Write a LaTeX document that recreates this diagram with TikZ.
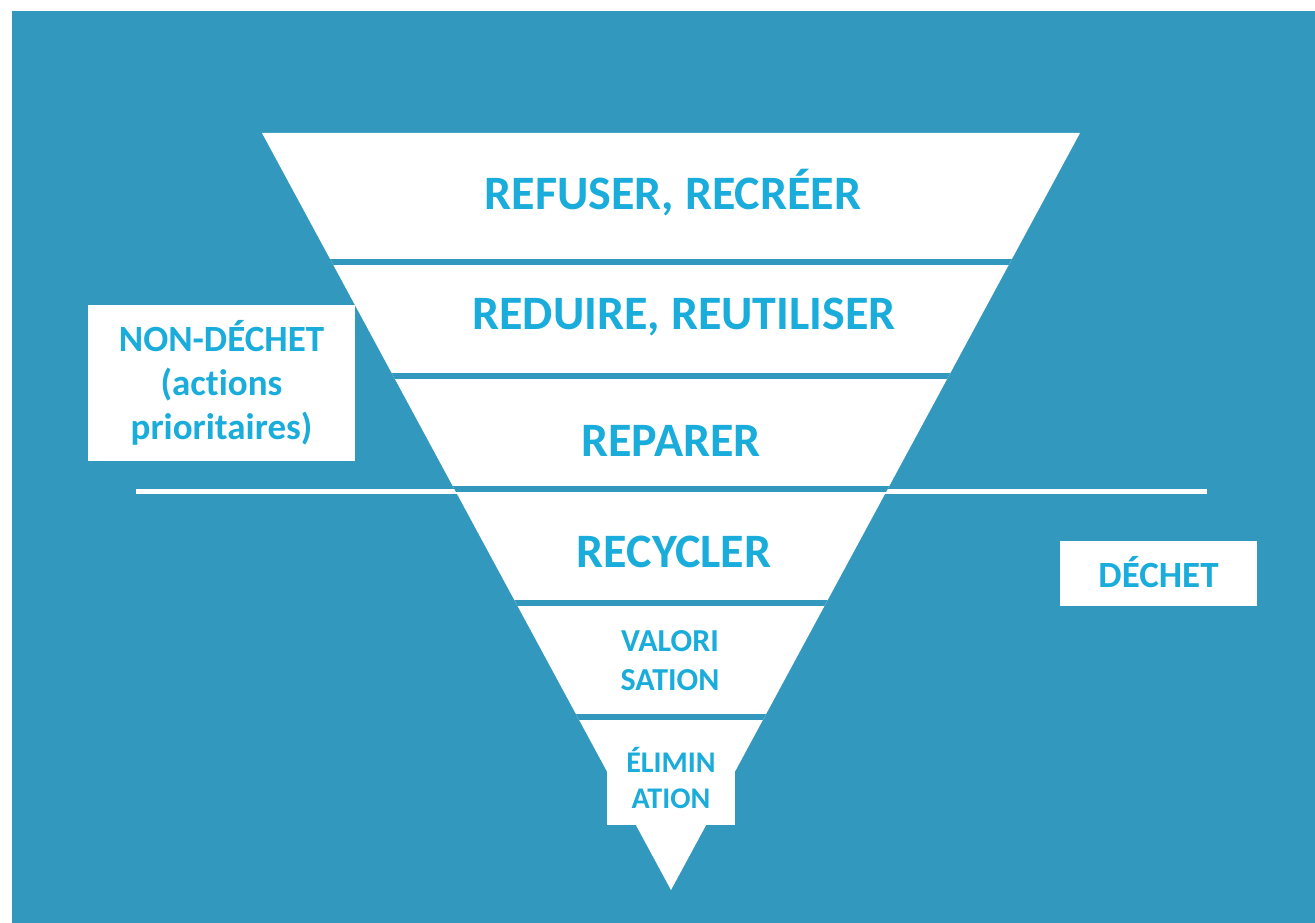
\documentclass[tikz,border=0pt]{standalone}
\usepackage{fontspec}
\setmainfont[Ligatures=NoCommon]{Carlito}
\usepackage{tikz}
\usetikzlibrary{positioning}

\definecolor{fondbleu}{RGB}{51,152,189}
\definecolor{textebleu}{RGB}{26,172,219}

\tikzset{
  niveau/.style={text=textebleu,font=\bfseries\fontsize{48}{56}\selectfont,align=center,inner sep=0pt},
  petitniveau/.style={text=textebleu,font=\bfseries\fontsize{32}{39}\selectfont,align=center,inner sep=0pt},
  etiquette/.style={fill=white,text=textebleu,font=\bfseries\fontsize{37}{44}\selectfont,align=center,inner sep=0pt}
}

\begin{document}
\begin{tikzpicture}[x=1pt,y=-1pt]
\useasboundingbox (0,0) rectangle (1315,923);
\fill [white] (0,0) rectangle (1315,923);
\fill [fondbleu] (12,11) rectangle (1315,923);
% ligne de separation
\draw [white,line width=5] (136,491) -- (1207,491);
% pyramide inversee
\coordinate (hg) at (262,133);
\coordinate (hd) at (1080,133);
\coordinate (pointe) at (671,890);
\fill [white] (hg) -- (hd) -- (pointe) -- cycle;
\begin{scope}
\clip (hg) -- (hd) -- (pointe) -- cycle;
\foreach \y in {262,376,489,603,717}
  \draw [fondbleu,line width=6] (200,\y) -- (1150,\y);
\end{scope}
% niveaux
\node [niveau] (refuser) at (673,193) {REFUSER, RECRÉER};
\node [niveau] (reduire) at (684,317) {REDUIRE, REUTILISER};
\node [niveau] (reparer) at (671,441) {REPARER};
\node [niveau] (recycler) at (674,552) {RECYCLER};
\node [petitniveau] (valorisation) at (670,661) {VALORI\\SATION};
\node [petitniveau,font=\bfseries\fontsize{30}{36}\selectfont,fill=white,minimum width=128,minimum height=94] (elimination) at (671,778) {ÉLIMIN\\ATION};
% etiquettes
\node [etiquette,minimum width=267,minimum height=156] (nondechet) at (221.5,383) {NON-DÉCHET\\(actions\\prioritaires)};
\node [etiquette,minimum width=197,minimum height=65] (dechet) at (1158.5,573.5) {\raisebox{3pt}{DÉCHET}};
\end{tikzpicture}
\end{document}
